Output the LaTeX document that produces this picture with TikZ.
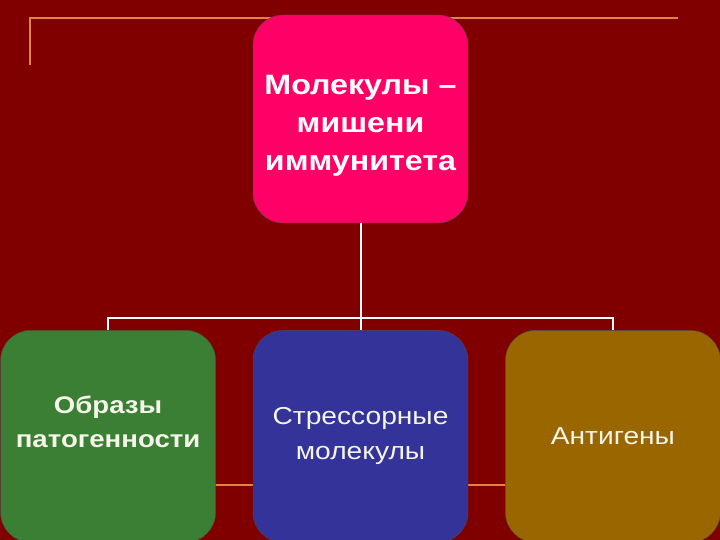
\documentclass[tikz,border=0pt]{standalone}
\usepackage{fontspec}
\setmainfont{Liberation Sans}[FakeStretch=1.15]
\usetikzlibrary{positioning}

\definecolor{slide}{HTML}{800000}
\definecolor{rule}{HTML}{E0853E}
\definecolor{pinkbox}{HTML}{FF0066}
\definecolor{greenbox}{HTML}{3A7F33}
\definecolor{bluebox}{HTML}{333399}
\definecolor{goldbox}{HTML}{996600}
\definecolor{cream}{HTML}{F4F4E8}

\tikzset{
	box/.style={rectangle, rounded corners=30pt, draw=black!70, thin,
		minimum width=215pt, minimum height=212pt, align=center,
		text=cream, font=\fontsize{24.5}{35}\selectfont},
	boxtext/.style={align=center, text=cream, font=\bfseries\fontsize{24}{34}\selectfont},
	link/.style={draw=white, line width=2pt},
}

\begin{document}
\begin{tikzpicture}[x=1pt, y=-1pt, node distance=107pt and 37pt]
	\clip (0,0) rectangle (720,540);
	\fill[slide] (0,0) rectangle (720,540);
	% frame lines of the slide
	\draw[rule, line width=2pt] (30,65) -- (30,18) -- (678,18);
	\draw[rule, line width=2pt] (30,485) -- (700,485);

	\node[box, fill=pinkbox, minimum height=208pt]
							(top)   at (360.5,119) 	{};
	\node[boxtext, text=white, font=\bfseries\fontsize{28}{38}\selectfont]
							(toptext) at ([yshift=-7pt]top.center) {Молекулы --\\мишени\\иммунитета};
	\node[box, fill=bluebox] 	(mid) [below		=of top] 	{Стрессорные\\молекулы};
	\node[box, fill=greenbox] 	(pamp) [left		=of mid] 	{};
	\node[boxtext] 				(pamptext) at ([yshift=15pt]pamp.center) {Образы\\патогенности};
	\node[box, fill=goldbox] 	(ant) [right		=of mid] 	{Антигены};

	\path[link]
	(top.south) -- (mid.north)
	(pamp.north) |- ([yshift=12pt]mid.north) -| (ant.north)
;
\end{tikzpicture}
\end{document}
